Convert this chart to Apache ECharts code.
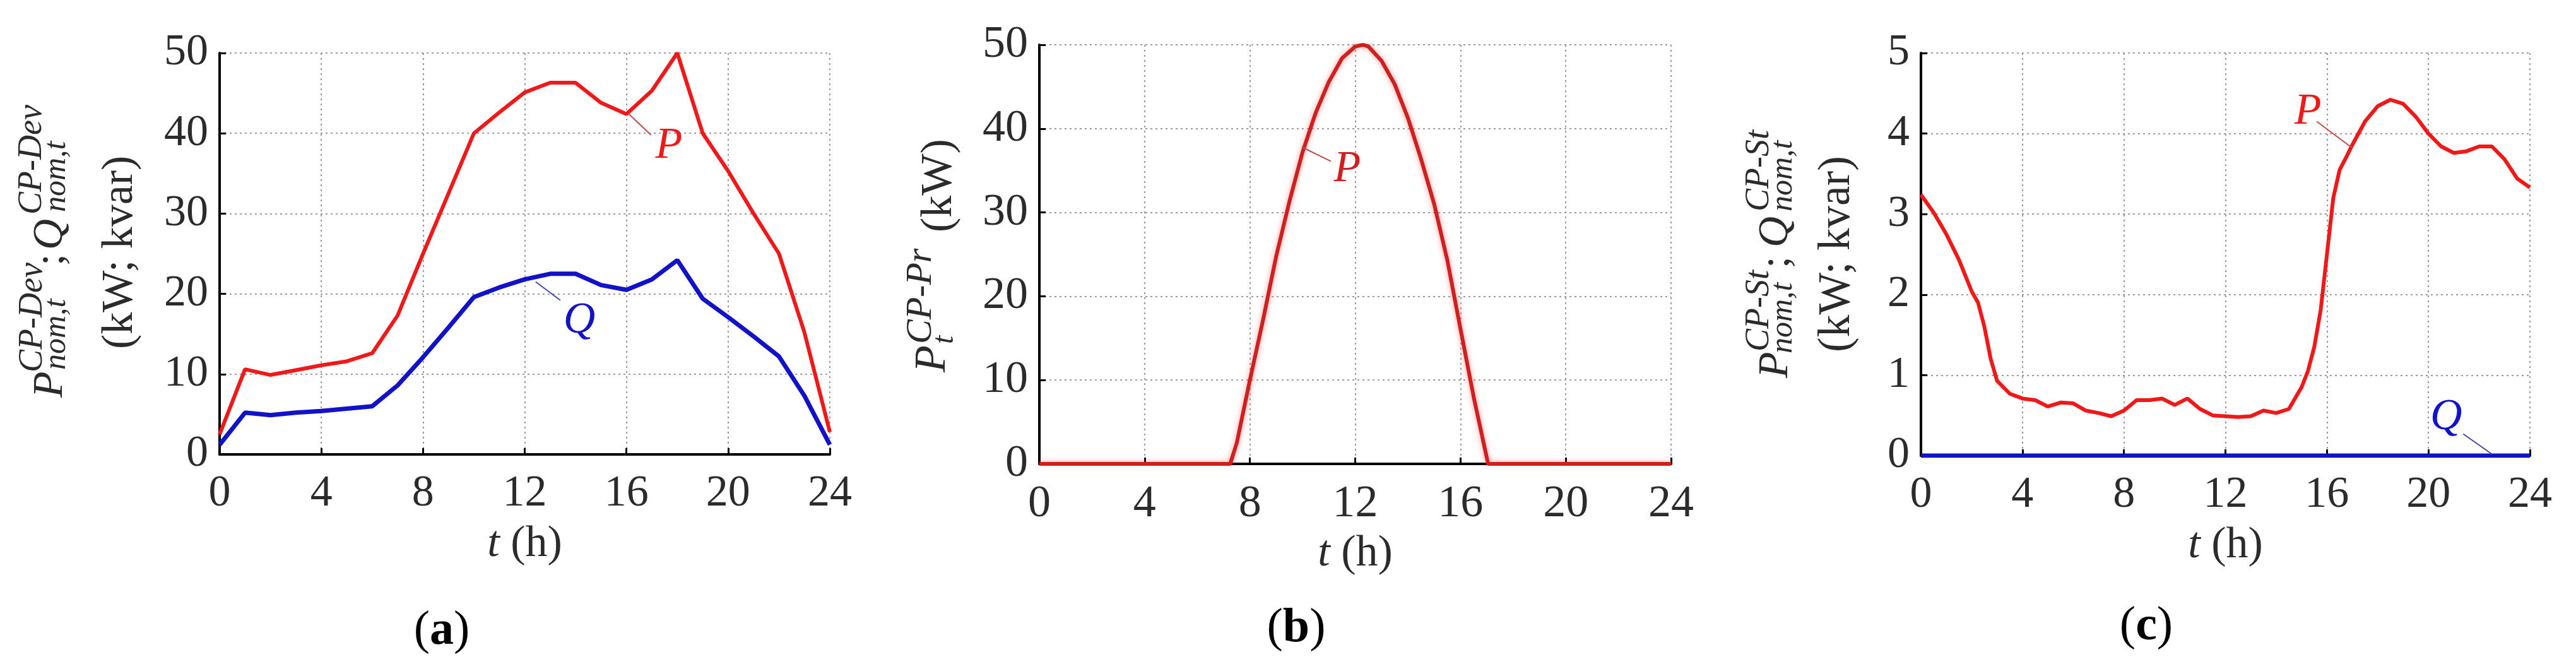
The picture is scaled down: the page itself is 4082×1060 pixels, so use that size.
<!DOCTYPE html>
<html>
<head>
<meta charset="utf-8">
<script src="https://cdn.jsdelivr.net/npm/echarts@6/dist/echarts.min.js"></script>
<style>
  html, body { margin: 0; padding: 0; background: #fff; }
  #main { width: 4082px; height: 1060px; }
</style>
</head>
<body>
<div id="main"></div>
<script>
// hours and tick labels
const hours = [0,1,2,3,4,5,6,7,8,9,10,11,12,13,14,15,16,17,18,19,20,21,22,23,24];

// (a) device charging point
const pDev = [2.5,10.6,9.9,10.5,11.1,11.6,12.6,17.3,25.0,32.5,40.0,42.6,45.1,46.3,46.3,43.8,42.4,45.3,50.0,40.0,35.3,30.0,25.0,15.2,2.8];
const qDev = [1.2,5.2,4.9,5.2,5.4,5.7,6.0,8.6,12.1,15.8,19.6,20.8,21.8,22.5,22.5,21.1,20.5,21.8,24.2,19.4,17.1,14.7,12.2,7.3,1.2];

// (b) production
const tPr = [0,7.25,7.5,8,8.5,9,9.5,10,10.5,11,11.5,12,12.3,12.5,13,13.5,14,14.5,15,15.5,16,16.5,17.05,24];
const pPr = [0,0,2.5,10,17.2,24.8,31.3,37.2,41.9,45.6,48.4,49.8,50,49.8,48.1,45.3,41.3,36.4,31,24.3,16.1,8,0,0];

// (c) storage
const tSt = [0,0.5,1,1.5,2,2.25,2.5,2.75,3,3.5,4,4.5,5,5.5,6,6.5,7,7.5,8,8.5,9,9.5,10,10.5,11,11.5,12,12.5,13,13.5,14,14.5,15,15.25,15.5,15.75,16,16.25,16.5,16.75,17,17.5,18,18.5,19,19.5,20,20.5,21,21.5,22,22.5,23,23.5,24];
const pSt = [3.24,3.02,2.75,2.43,2.04,1.9,1.6,1.2,0.93,0.77,0.71,0.69,0.61,0.66,0.65,0.56,0.53,0.49,0.56,0.69,0.69,0.71,0.63,0.71,0.58,0.50,0.49,0.48,0.49,0.56,0.53,0.58,0.85,1.05,1.35,1.8,2.5,3.2,3.55,3.7,3.86,4.15,4.34,4.42,4.37,4.21,4.0,3.84,3.76,3.78,3.84,3.84,3.68,3.44,3.33];
const tQSt = [0,24];
const qSt = [0,0];

const SERIF = 'Liberation Serif';
const INK = '#2b2b2b';
const RED = '#f01818';
const BLUE = '#1212c8';

const pairs = (xs, ys) => xs.map((x, i) => [x, ys[i]]);

function xAx(grid, size) {
  return {
    type: 'value', gridIndex: grid, min: 0, max: 24, interval: 4,
    name: '{i|t} (h)', nameLocation: 'middle', nameGap: 108,
    nameTextStyle: { fontFamily: SERIF, fontSize: 70, color: INK,
      rich: { i: { fontFamily: SERIF, fontStyle: 'italic', fontSize: 70, color: INK } } },
    axisLine: { lineStyle: { color: '#000', width: 4 } },
    axisTick: { inside: true, length: 10, lineStyle: { color: '#000', width: 3 } },
    axisLabel: { fontFamily: SERIF, fontSize: size, color: INK, margin: 28 },
    splitLine: { show: true, lineStyle: { type: [3, 5], color: '#9c9c9c', width: 2 } }
  };
}
function yAx(grid, max, interval, size) {
  return {
    type: 'value', gridIndex: grid, min: 0, max: max, interval: interval,
    axisLine: { show: true, lineStyle: { color: '#000', width: 4 } },
    axisTick: { show: true, inside: true, length: 10, lineStyle: { color: '#000', width: 3 } },
    axisLabel: { fontFamily: SERIF, fontSize: size, color: INK, margin: 18 },
    splitLine: { show: true, lineStyle: { type: [3, 5], color: '#9c9c9c', width: 2 } }
  };
}

// leader line + letter tag placed in data units
function tag(letter, color, lineColor, from, to, at) {
  return {
    markLine: {
      silent: true, symbol: ['none', 'none'], label: { show: false },
      lineStyle: { type: 'solid', width: 2, color: lineColor },
      data: [[{ coord: from }, { coord: to }]]
    },
    markPoint: {
      silent: true, symbol: 'circle', symbolSize: 1,
      itemStyle: { color: 'rgba(0,0,0,0)' },
      label: { show: true, position: 'inside', formatter: letter,
        fontFamily: SERIF, fontStyle: 'italic', fontSize: 70, color: color },
      data: [{ coord: at }]
    }
  };
}

// rotated text piece, reading upward from (x, y)
function vt(x, y, text, size, italic) {
  return {
    type: 'text', x: x, y: y, rotation: Math.PI / 2,
    style: { text: text, fontFamily: SERIF, fontSize: size,
      fontStyle: italic ? 'italic' : 'normal', fill: INK,
      align: 'left', verticalAlign: 'middle' }
  };
}
function cap(x, y, letter) {
  return {
    type: 'text', x: x, y: y,
    style: { text: '({b|' + letter + '})', fontFamily: SERIF, fontSize: 76, fill: '#000',
      align: 'center', verticalAlign: 'middle',
      rich: { b: { fontFamily: SERIF, fontSize: 76, fontWeight: 'bold', fill: '#000' } } }
  };
}

const chart = echarts.init(document.getElementById('main'));
chart.setOption({
  animation: false,
  backgroundColor: '#fff',
  grid: [
    { left: 348, top: 84, width: 967, height: 636 },
    { left: 1647, top: 71, width: 1001, height: 664 },
    { left: 3044, top: 84, width: 965, height: 638 }
  ],
  xAxis: [xAx(0, 70), xAx(1, 72), xAx(2, 70)],
  yAxis: [yAx(0, 50, 10, 70), yAx(1, 50, 10, 72), yAx(2, 5, 1, 70)],
  series: [
    Object.assign({
      type: 'line', xAxisIndex: 0, yAxisIndex: 0, data: pairs(hours, pDev),
      showSymbol: false, lineStyle: { color: RED, width: 6 }, itemStyle: { color: RED }
    }, tag('P', RED, '#c84848', [16.08, 42.45], [16.96, 39.8], [17.67, 38.4])),
    Object.assign({
      type: 'line', xAxisIndex: 0, yAxisIndex: 0, data: pairs(hours, qDev),
      showSymbol: false, lineStyle: { color: BLUE, width: 7 }, itemStyle: { color: BLUE }
    }, tag('Q', BLUE, '#4848a8', [12.43, 21.5], [13.4, 19.2], [14.15, 16.6])),
    Object.assign({
      type: 'line', xAxisIndex: 1, yAxisIndex: 1, data: pairs(tPr, pPr),
      showSymbol: false,
      lineStyle: { color: '#cf1f1f', width: 6, shadowBlur: 8, shadowColor: 'rgba(255,60,60,0.55)' },
      itemStyle: { color: '#cf1f1f' }
    }, tag('P', '#cf1f1f', '#b85050', [9.97, 37.8], [11.08, 36.1], [11.7, 35.1])),
    Object.assign({
      type: 'line', xAxisIndex: 2, yAxisIndex: 2, data: pairs(tSt, pSt),
      showSymbol: false, lineStyle: { color: RED, width: 6 }, itemStyle: { color: RED }
    }, tag('P', RED, '#c84848', [15.6, 4.15], [17.0, 3.82], [15.25, 4.27])),
    Object.assign({
      type: 'line', xAxisIndex: 2, yAxisIndex: 2, data: pairs(tQSt, qSt),
      showSymbol: false, lineStyle: { color: BLUE, width: 7 }, itemStyle: { color: BLUE }
    }, tag('Q', BLUE, '#4a4a90', [21.37, 0.27], [22.5, 0.02], [20.7, 0.47]))
  ],
  graphic: [
    // (a) y title
    vt(80, 630, 'P', 68, true),
    vt(52, 590, 'CP-Dev', 54, true),
    vt(90, 586, 'nom,t', 50, true),
    vt(82, 421, ';', 68, false),
    vt(80, 396, 'Q', 68, true),
    vt(51, 340, 'CP-Dev', 54, true),
    vt(90, 336, 'nom,t', 50, true),
    vt(191, 553, '(kW; kvar)', 70, false),
    // (b) y title
    vt(1479, 590, 'P', 70, true),
    vt(1460, 545, 'CP-Pr', 58, true),
    vt(1497, 545, 't', 48, true),
    vt(1489, 368, '(kW)', 70, false),
    // (c) y title
    vt(2814, 599, 'P', 68, true),
    vt(2788, 557, 'CP-St', 54, true),
    vt(2826, 560, 'nom,t', 50, true),
    vt(2816, 425, ';', 68, false),
    vt(2814, 392, 'Q', 68, true),
    vt(2788, 335, 'CP-St', 54, true),
    vt(2826, 335, 'nom,t', 50, true),
    vt(2911, 558, '(kW; kvar)', 71, false),
    // sub-captions
    cap(700, 1000, 'a'),
    cap(2054, 996, 'b'),
    cap(3401, 993, 'c')
  ]
});
</script>
</body>
</html>
